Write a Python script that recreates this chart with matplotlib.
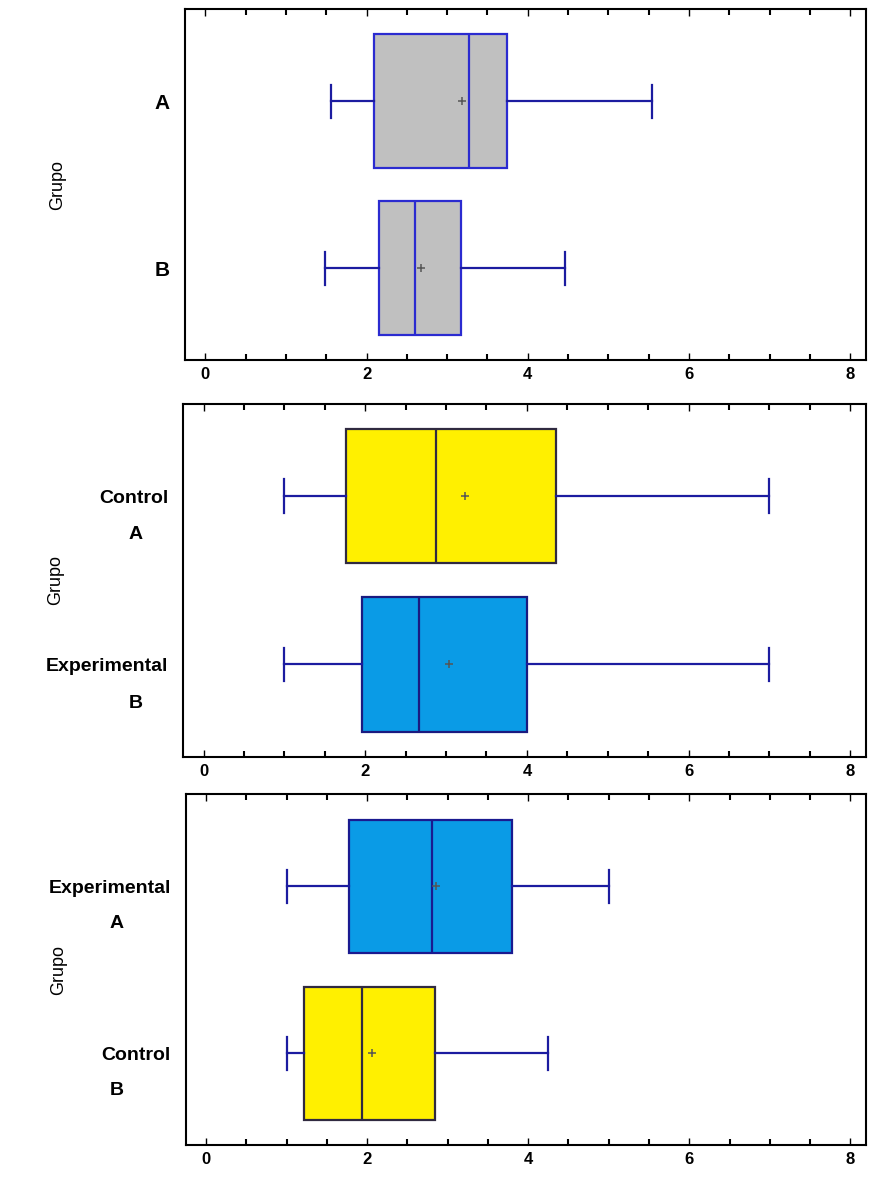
import matplotlib.pyplot as plt
from matplotlib.ticker import MultipleLocator
import matplotlib.transforms as mtransforms

plt.rcParams['font.family'] = ['Liberation Sans', 'DejaVu Sans']

# box statistics: low whisker, Q1, median, Q3, high whisker, mean
# panel 1
p1_labels = ["A", "B"]
p1_sub = ["", ""]
p1_low = [1.56, 1.48]
p1_q1 = [2.09, 2.15]
p1_med = [3.27, 2.60]
p1_q3 = [3.74, 3.17]
p1_high = [5.54, 4.46]
p1_mean = [3.18, 2.68]
p1_colors = ["#c0c0c0", "#c0c0c0"]

# panel 2
p2_labels = ["Control", "Experimental"]
p2_sub = ["A", "B"]
p2_low = [1.0, 1.0]
p2_q1 = [1.76, 1.96]
p2_med = [2.87, 2.67]
p2_q3 = [4.36, 4.0]
p2_high = [7.0, 7.0]
p2_mean = [3.24, 3.04]
p2_colors = ["#fff000", "#0a9be6"]

# panel 3
p3_labels = ["Experimental", "Control"]
p3_sub = ["A", "B"]
p3_low = [1.0, 1.0]
p3_q1 = [1.78, 1.22]
p3_med = [2.80, 1.93]
p3_q3 = [3.80, 2.84]
p3_high = [5.0, 4.24]
p3_mean = [2.85, 2.06]
p3_colors = ["#0a9be6", "#fff000"]

panels = [
    (p1_labels, p1_sub, p1_low, p1_q1, p1_med, p1_q3, p1_high, p1_mean, p1_colors),
    (p2_labels, p2_sub, p2_low, p2_q1, p2_med, p2_q3, p2_high, p2_mean, p2_colors),
    (p3_labels, p3_sub, p3_low, p3_q1, p3_med, p3_q3, p3_high, p3_mean, p3_colors),
]

# axes placement [left, bottom, width, height] in figure fraction
rects = [
    [0.213, 0.694, 0.784, 0.298],
    [0.211, 0.357, 0.786, 0.300],
    [0.214, 0.027, 0.783, 0.298],
]
edge_cols = [["#2b2bd0", "#2b2bd0"], ["#302a40", "#1a1a80"], ["#1a1a90", "#302a40"]]
sub_x = [None, -0.070, -0.102]
sub_dy = [0, 0.23, 0.22]

fig = plt.figure(figsize=(8.69, 11.77), dpi=100)

for i, (labels, sub, low, q1, med, q3, high, mean, colors) in enumerate(panels):
    ax = fig.add_axes(rects[i])
    stats = []
    for j in range(len(labels)):
        stats.append({"whislo": low[j], "q1": q1[j], "med": med[j], "q3": q3[j],
                      "whishi": high[j], "mean": mean[j], "fliers": [], "label": labels[j]})
    pos = list(range(len(labels), 0, -1))
    bp = ax.bxp(stats, positions=pos, vert=False, widths=0.8, capwidths=0.2,
                showmeans=True, patch_artist=True,
                whiskerprops=dict(color="#1c1ca0", lw=1.6),
                capprops=dict(color="#1c1ca0", lw=1.6),
                meanprops=dict(marker="+", markersize=6, markeredgecolor="#555555",
                               markeredgewidth=1.1))
    for j, box in enumerate(bp["boxes"]):
        box.set_facecolor(colors[j])
        box.set_edgecolor(edge_cols[i][j])
        box.set_linewidth(1.6)
    for j, m in enumerate(bp["medians"]):
        m.set_color(edge_cols[i][j])
        m.set_linewidth(1.6)

    ax.set_xlim(-0.25, 8.2)
    ax.set_ylim(0.45, 2.55)
    ax.xaxis.set_major_locator(MultipleLocator(2))
    ax.xaxis.set_minor_locator(MultipleLocator(0.5))
    ax.tick_params(axis="x", which="both", direction="in", top=True, bottom=True)
    ax.tick_params(axis="x", which="major", length=5, width=1, pad=5, labelsize=12)
    ax.tick_params(axis="x", which="minor", length=4, width=1.5)
    ax.tick_params(axis="y", length=0, pad=11)
    for lab in ax.get_xticklabels():
        lab.set_fontweight("bold")
    ax.set_yticks(pos)
    if i == 0:
        ax.set_yticklabels(labels, fontsize=15, fontweight="bold")
    else:
        ax.set_yticklabels(labels, fontsize=14, fontweight="bold")
        trans = mtransforms.blended_transform_factory(ax.transAxes, ax.transData)
        for j in range(len(sub)):
            ax.text(sub_x[i], pos[j] - sub_dy[i], sub[j], transform=trans,
                    ha="center", va="center", fontsize=14, fontweight="bold")
    for s in ax.spines.values():
        s.set_linewidth(1.5)
    ax.set_ylabel("Grupo", fontsize=13)
    ax.yaxis.set_label_coords(-0.174, 0.5)

fig.savefig("out.png", dpi=100)
